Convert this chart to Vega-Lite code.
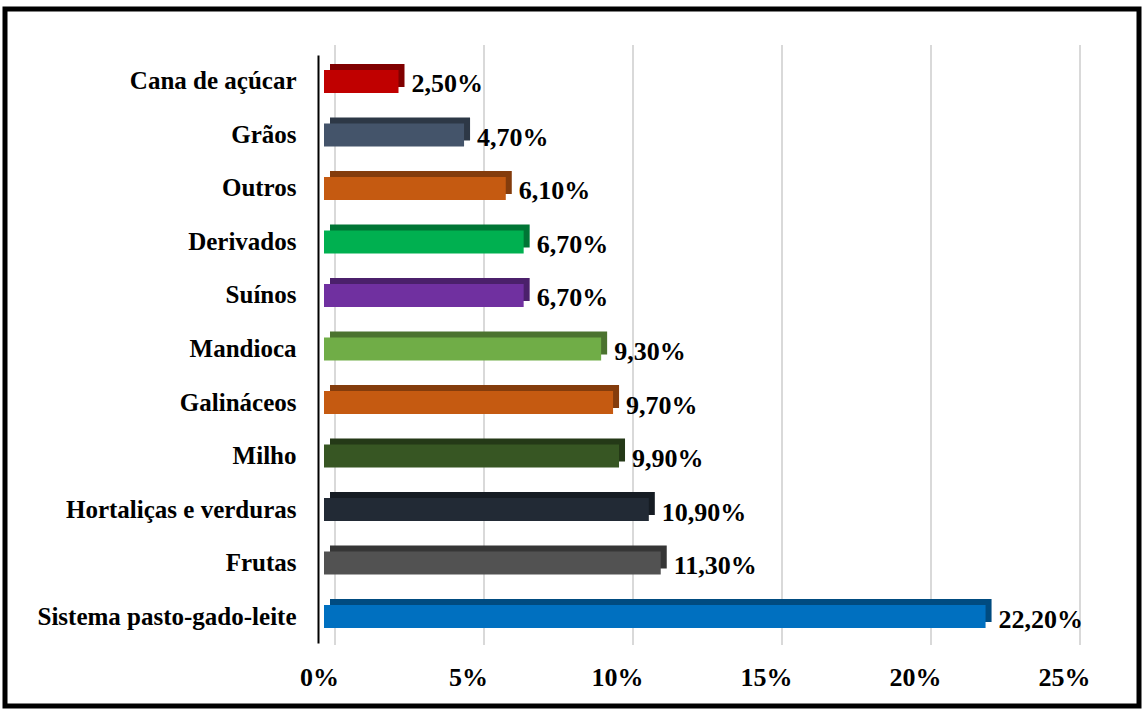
{
  "$schema": "https://vega.github.io/schema/vega-lite/v6.json",
  "autosize": {"type": "none"},
  "width": 1134,
  "height": 697,
  "padding": {"left": 5, "top": 9, "right": 4, "bottom": 3},
  "background": "white",
  "config": {
    "view": {"stroke": "black", "strokeWidth": 5},
    "locale": {"number": {"decimal": ",", "thousands": ".", "grouping": [3], "currency": ["", ""]}},
    "font": "Liberation Serif"
  },
  "datasets": {
    "bars": [
      {"cat": "Cana de açúcar", "v": 0.025},
      {"cat": "Grãos", "v": 0.047},
      {"cat": "Outros", "v": 0.061},
      {"cat": "Derivados\u00a0", "v": 0.067},
      {"cat": "Suínos", "v": 0.067},
      {"cat": "Mandioca", "v": 0.093},
      {"cat": "Galináceos", "v": 0.097},
      {"cat": "Milho", "v": 0.099},
      {"cat": "Hortaliças e verduras", "v": 0.109},
      {"cat": "Frutas", "v": 0.113},
      {"cat": "Sistema pasto-gado-leite", "v": 0.222}
    ],
    "grid": [{"t": 0}, {"t": 0.05}, {"t": 0.1}, {"t": 0.15}, {"t": 0.2}, {"t": 0.25}]
  },
  "resolve": {"scale": {"y": "independent", "color": "independent"}},
  "layer": [
    {
      "data": {"name": "grid"},
      "mark": {"type": "rule", "color": "#d9d9d9", "strokeWidth": 2, "xOffset": 11},
      "encoding": {
        "x": {"field": "t", "type": "quantitative", "scale": {"domain": [0, 0.25], "range": [319, 1064], "nice": false, "zero": false},
          "axis": {"orient": "bottom", "offset": -44, "format": ".0%", "values": [0, 0.05, 0.1, 0.15, 0.2, 0.25], "grid": false, "domain": false, "ticks": false, "labelPadding": 2, "labelOffset": -5, "labelFont": "Liberation Serif", "labelFontWeight": "bold", "labelFontSize": 26, "labelColor": "black", "labelFlush": false, "title": null}},
        "y": {"datum": 0, "type": "quantitative", "scale": {"domain": [0, 1], "range": [636, 36], "nice": false}, "axis": null},
        "y2": {"datum": 1}
      }
    },
    {
      "data": {"name": "bars"},
      "resolve": {"scale": {"color": "independent"}},
      "layer": [
        {
          "mark": {"type": "bar", "xOffset": 6, "yOffset": -6},
          "encoding": {
            "x": {"field": "v", "type": "quantitative"},
            "y": {"field": "cat", "type": "nominal", "sort": null, "scale": {"range": [46, 634], "paddingInner": 0.57, "paddingOuter": 0.28},
              "axis": {"orient": "left", "offset": -313, "domainColor": "black", "domainWidth": 2, "ticks": false, "labelPadding": 22, "labelLimit": 400, "labelFont": "Liberation Serif", "labelFontWeight": "bold", "labelFontSize": 25, "labelColor": "black", "title": null}},
            "color": {"field": "cat", "type": "nominal", "legend": null,
              "scale": {"domain": ["Cana de açúcar", "Grãos", "Outros", "Derivados\u00a0", "Suínos", "Mandioca", "Galináceos", "Milho", "Hortaliças e verduras", "Frutas", "Sistema pasto-gado-leite"],
                "range": ["#800000", "#2D3846", "#843C0C", "#007535", "#4B206B", "#4B732F", "#843C0C", "#243917", "#161C23", "#363636", "#004B80"]}}
          }
        },
        {
          "mark": {"type": "bar"},
          "encoding": {
            "x": {"field": "v", "type": "quantitative"},
            "y": {"field": "cat", "type": "nominal", "sort": null},
            "color": {"field": "cat", "type": "nominal", "legend": null,
              "scale": {"domain": ["Cana de açúcar", "Grãos", "Outros", "Derivados\u00a0", "Suínos", "Mandioca", "Galináceos", "Milho", "Hortaliças e verduras", "Frutas", "Sistema pasto-gado-leite"],
                "range": ["#C00000", "#44546A", "#C55A11", "#00B050", "#7030A0", "#70AD47", "#C55A11", "#375623", "#222A35", "#525252", "#0070C0"]}}
          }
        },
        {
          "mark": {"type": "text", "align": "left", "baseline": "middle", "dx": 13, "dy": 3, "font": "Liberation Serif", "fontWeight": "bold", "fontSize": 26, "color": "black"},
          "encoding": {
            "x": {"field": "v", "type": "quantitative"},
            "y": {"field": "cat", "type": "nominal", "sort": null},
            "text": {"field": "v", "type": "quantitative", "format": ".2%"}
          }
        }
      ]
    }
  ]
}
